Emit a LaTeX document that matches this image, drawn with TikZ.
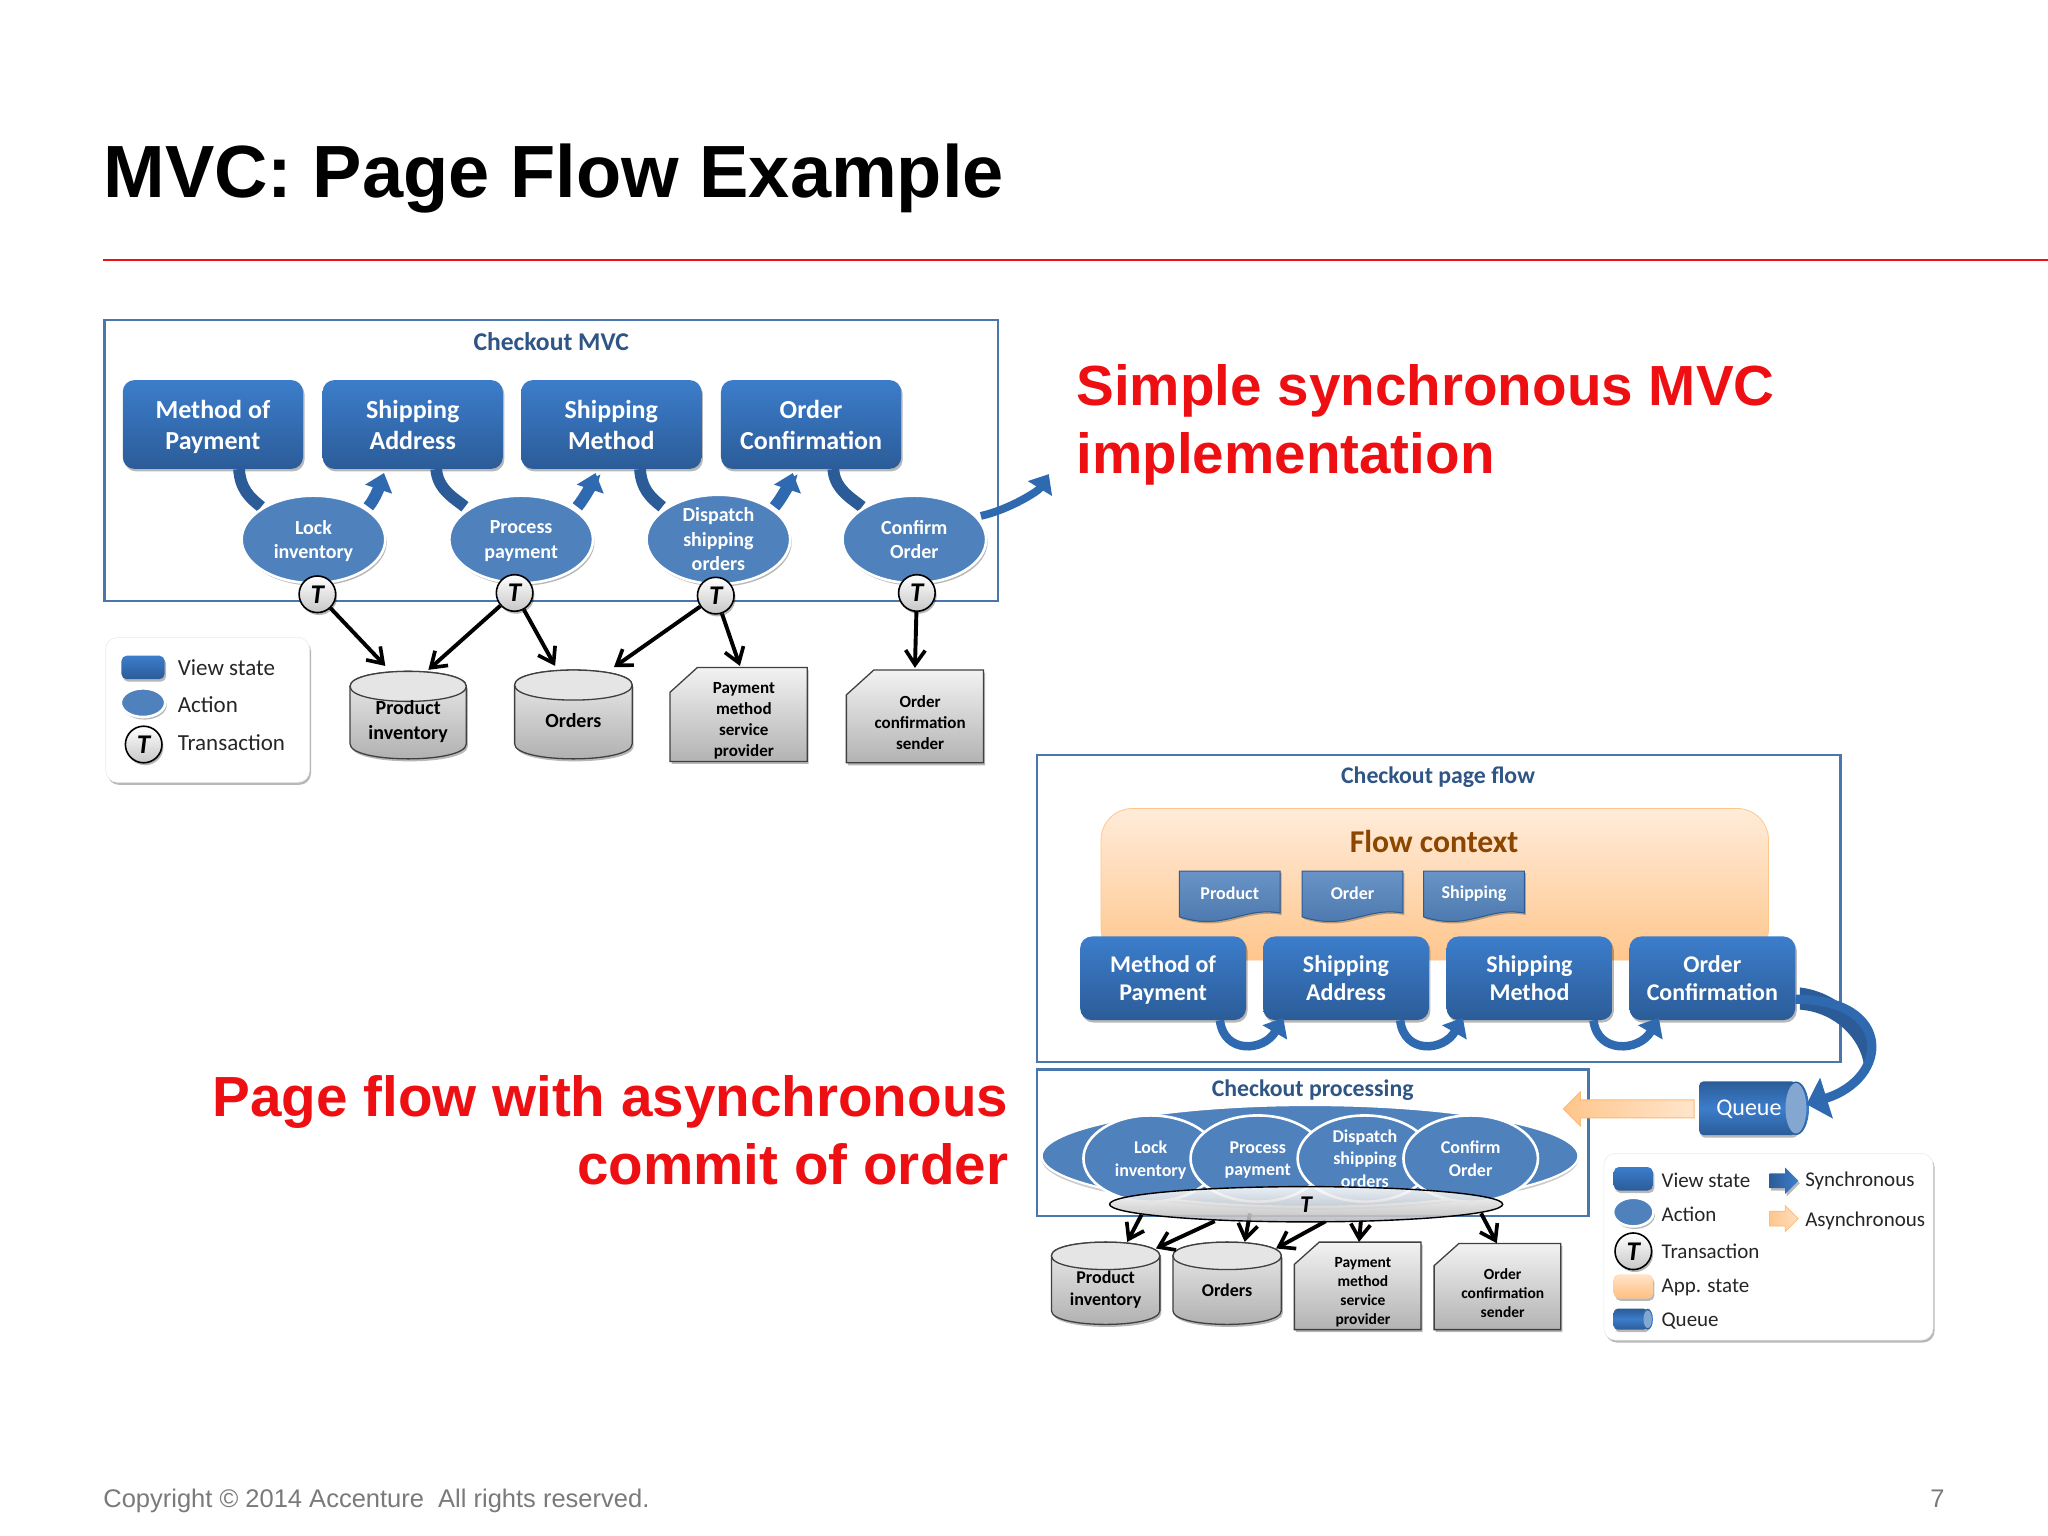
\documentclass[tikz,border=0pt]{standalone}
\usepackage{fontspec}
\setmainfont{Liberation Sans}
\newfontfamily\carl{Carlito}
\usetikzlibrary{arrows.meta,shapes.geometric,shapes.arrows,shadows,calc}
\definecolor{vtop}{HTML}{3C7DCB}
\definecolor{vbot}{HTML}{2B5C98}
\definecolor{act}{HTML}{4F81BD}
\definecolor{boxc}{HTML}{4A76AE}
\definecolor{ttl}{HTML}{2F5585}
\definecolor{redt}{HTML}{EE0F12}
\definecolor{arrowc}{HTML}{2F69B0}
\newcommand\UU[1]{#1*1.30612pt}
\newcommand\fnt[2]{\fontsize{#1}{#2}\selectfont}
\tikzset{
  softshadow/.style={drop shadow={shadow xshift=1.5pt,shadow yshift=-2.5pt,fill=black,opacity=.28}},
  box/.style={draw=boxc,line width=2.6pt},
  boxtitle/.style={font=\carl\bfseries\fnt{25.6}{30},text=ttl,inner sep=0pt},
  view/.style={rounded corners=\UU{9},top color=vtop,bottom color=vbot,draw=none,text=white,align=center,
     minimum width=\UU{138},minimum height=\UU{68},font=\carl\bfseries\fnt{26}{31},inner sep=0pt,softshadow},
  viewb/.style={view,minimum width=\UU{127},minimum height=\UU{64},font=\carl\bfseries\fnt{24}{28.5}},
  action/.style={ellipse,fill=act,draw=white,line width=2.6pt,text=white,align=center,
     minimum width=\UU{110},minimum height=\UU{67},inner sep=0pt,font=\carl\bfseries\fnt{20}{24.5},softshadow},
  actionb/.style={ellipse,fill=act,draw=white,line width=2.6pt,text=white,align=center,
     minimum width=\UU{103},minimum height=\UU{66},inner sep=0pt,font=\carl\bfseries\fnt{18}{22.5}},
  tx/.style={circle,draw=black,line width=1.6pt,top color=white,bottom color=black!22,minimum size=\UU{28},inner sep=0pt,
     font=\carl\bfseries\itshape\fnt{27}{27},softshadow},
  syncarc/.style={draw=vbot,line width=\UU{9},line cap=butt},
  synchead/.style={draw=arrowc,line width=\UU{9},line cap=butt,-{Triangle[length=\UU{13},width=\UU{21}]}},
  dep/.style={draw=black,line width=\UU{3},-{Straight Barb[length=\UU{11},width=\UU{15},line width=\UU{2.8}]}},
  legendbox/.style={rounded corners=\UU{9},fill=white,draw=black!8,line width=.6pt,softshadow},
  lbl/.style={anchor=west,inner sep=0pt,font=\carl\fnt{23}{27},text=black!85},
  lblb/.style={anchor=west,inner sep=0pt,font=\carl\fnt{21}{25},text=black!85},
  orangefill/.style={top color=orange!15,bottom color=orange!45!white},
  asyncarrow/.style={single arrow,single arrow head extend=\UU{6},single arrow head indent=0pt,draw=orange!55!white,line width=1pt,
     left color=orange!45!white,right color=orange!20!white,inner sep=\UU{6.5}},
  redhead/.style={inner sep=0pt,font=\bfseries\fnt{56.6}{68},text=redt},
}
\newcommand\wdoc[4]{%
  \begin{scope}[shift={(#2,#3)}]
    \fill[top color=act!85!white,bottom color=act!90!black,drop shadow={shadow xshift=1.5pt,shadow yshift=-2pt,fill=black,opacity=.25},draw=vbot,line width=1pt]
      (0,0) -- (77,0) -- (77,32) .. controls (48,27) and (35,46) .. (0,35) -- cycle;
    \node[inner sep=0pt,text=white,font=\carl\bfseries\fnt{18}{20}] (#1) at (38.5,17) {#4};
  \end{scope}}
% name, left, top, width, height, chamfer x, chamfer y, font, text
\newcommand\svc[9]{%
  \begin{scope}[shift={(#2,#3)}]
    \path[draw=black!75,line width=1.3pt,top color=black!5,bottom color=black!30,softshadow]
      (#6,0) -- (#4,0) -- (#4,#5) -- (0,#5) -- (0,#7) -- cycle;
    \node[inner sep=0pt,minimum width=\UU{#4},minimum height=\UU{#5},align=center,font=\carl\bfseries#8] (#1) at ($(#4/2,#5/2)+(4,5)$) {#9};
  \end{scope}}
% name, left, top, width, height, end radius, font, text
\newcommand\dbs[8]{%
  \begin{scope}[shift={(#2,#3)}]
    \path[draw=black!75,line width=1.3pt,top color=black!6,bottom color=black!32,softshadow]
      (0,#6) -- (0,#5-#6) .. controls (0,#5+#6/3) and (#4,#5+#6/3) .. (#4,#5-#6) -- (#4,#6)
      .. controls (#4,-#6/3) and (0,-#6/3) .. (0,#6) -- cycle;
    \draw[black!75,line width=1.3pt,fill=black!10] (0,#6) .. controls (0,7*#6/3) and (#4,7*#6/3) .. (#4,#6)
      .. controls (#4,-#6/3) and (0,-#6/3) .. (0,#6) -- cycle;
    \node[inner sep=0pt,minimum width=\UU{#4},minimum height=\UU{#5},align=center,font=\carl\bfseries#7] (#1) at ($(#4/2,#5/2)+(0,5)$) {#8};
  \end{scope}}
% name, left, top, width, height, end x-radius
\newcommand\queueshape[6]{%
  \begin{scope}[shift={(#2,#3)}]
    \path[top color=vbot,bottom color=vbot,middle color=vtop,rounded corners=\UU{3},softshadow]
      (0,0) -- (#4-#6,0) -- (#4-#6,#5) -- (0,#5) -- cycle;
    \path[top color=vbot,bottom color=vbot,middle color=vtop] (#4-#6,#5/2) ellipse [x radius=#6,y radius=#5/2];
    \path[fill=act!70!white] (#4-#6,#5/2) ellipse [x radius=#6*0.8,y radius=#5/2-1.2];
    \node[inner sep=0pt,minimum width=\UU{#4},minimum height=\UU{#5}] (#1) at (#4/2,#5/2) {};
  \end{scope}}
\begin{document}
\begin{tikzpicture}[x=1.30612pt,y=-1.30612pt]
\useasboundingbox[fill=white] (0,0) rectangle (1568,1176);
% header
\node[anchor=base west,inner sep=0pt,font=\bfseries\fnt{74}{90}] (title) at (79,151) {MVC: Page Flow Example};
\coordinate (rl) at (79,199); \coordinate (rr) at (1568,199);
\draw[redt,line width=2.8pt] (rl) -- (rr);
% footer
\node[anchor=base west,inner sep=0pt,font=\fnt{25.5}{30},text=black!52] (copy) at (79,1154) {Copyright © 2014 Accenture\ \ All rights reserved.};
\node[anchor=base east,inner sep=0pt,font=\fnt{25.5}{30},text=black!52] (pageno) at (1489,1154) {7};
% red headings
\node[anchor=base west,align=left,redhead] (r1) at (824,310.5) {Simple synchronous MVC};
\node[anchor=base west,align=left,redhead] (r2) at (824,362.5) {implementation};
\node[anchor=base east,align=right,redhead] (r3) at (772,855) {Page flow with asynchronous};
\node[anchor=base east,align=right,redhead] (r4) at (772,907) {commit of order};

% ===== Checkout MVC =====
\draw[box] (80,245) rectangle (764,460);
\node[boxtitle] (mvct) at (422,261.5) {Checkout MVC};
\node[view] (v1) at (163,325) {Method of\\\smash{Payment}};
\node[view] (v2) at (316,325) {Shipping\\Address};
\node[view] (v3) at (468,325) {Shipping\\Method};
\node[view] (v4) at (621,325) {Order\\Confirmation};
% data stores
\dbs{c1}{268}{514}{89}{67}{11.5}{\fnt{20}{25}}{Product\\inventory}
\dbs{c2}{394}{513}{90}{68}{11.5}{\fnt{20}{25}}{Orders}
\svc{s1}{513}{511}{105}{72}{21}{19}{\fnt{17}{21}}{Payment\\method\\service\\provider}
\svc{s2}{648}{513}{105}{71}{21}{19}{\fnt{17}{21}}{Order\\confirmation\\sender}
% sync arcs
\draw[syncarc] ([xshift=\UU{20}]v1.south) .. controls +(1,15) and +(-9,-7) .. (200,388) coordinate (a1in);
\draw[syncarc] ([xshift=\UU{18}]v2.south) .. controls +(1,15) and +(-9,-7) .. (356,388) coordinate (a2in);
\draw[syncarc] ([xshift=\UU{22}]v3.south) .. controls +(1,15) and +(-9,-7) .. (507,388) coordinate (a3in);
\draw[syncarc] ([xshift=\UU{17}]v4.south) .. controls +(1,15) and +(-9,-7) .. (660,388) coordinate (a4in);
\coordinate (a1out) at (282,388);
\coordinate (a2out) at (442,388);
\coordinate (a3out) at (593,388);
\draw[synchead] (a1out) .. controls +(6,-7) and +(-2,6) .. ([xshift=\UU{-22},yshift=\UU{-3}]v2.south);
\draw[synchead] (a2out) .. controls +(6,-7) and +(-2,6) .. ([xshift=\UU{-12},yshift=\UU{-3}]v3.south);
\draw[synchead] (a3out) .. controls +(6,-7) and +(-2,6) .. ([xshift=\UU{-14},yshift=\UU{-3}]v4.south);
\coordinate (a4out) at (751,395);
\coordinate (exit) at (803,363);
\draw[synchead,line width=\UU{6}] (a4out) .. controls +(22,-5) and +(-8,13) .. (exit);
% actions
\node[action] (a1) at (240,413) {Lock\\\smash{inventory}};
\node[action] (a2) at (399,413) {Process\\\smash{payment}};
\node[action] (a3) at (550,413) {Dispatch\\shipping\\orders};
\node[action] (a4) at (700,413) {Confirm\\Order};
% transactions
\node[tx] (t1) at (243,455) {T};
\node[tx] (t2) at (394,454) {T};
\node[tx] (t3) at (548,456) {T};
\node[tx] (t4) at (702,454) {T};
% dependency arrows
\draw[dep] (t1) -- ([xshift=\UU{-17.5},yshift=\UU{9}]c1.north);
\draw[dep] (t2) -- ([xshift=\UU{15.5},yshift=\UU{6}]c1.north);
\draw[dep] (t2) -- ([xshift=\UU{-14},yshift=\UU{8}]c2.north);
\draw[dep] (t3) -- ([xshift=\UU{31},yshift=\UU{7}]c2.north);
\draw[dep] (t3) -- ([xshift=\UU{-3},yshift=\UU{6}]s1.north);
\draw[dep] (t4) -- ([xshift=\UU{-4},yshift=\UU{6.5}]s2.north);
% legend 1
\node[legendbox,minimum width=\UU{156},minimum height=\UU{111}] (leg1) at (159,543.5) {};
\node[view,minimum width=\UU{33},minimum height=\UU{18},rounded corners=\UU{4}] (lv1) at (109.5,511) {};
\node[action,minimum width=\UU{34},minimum height=\UU{22}] (la1) at (109.5,538) {};
\node[tx] (lt1) at (110,570) {T};
\node[lbl] (lv1t) at (136,511) {View state};
\node[lbl] (la1t) at (136,539.5) {Action};
\node[lbl] (lt1t) at (136,568.5) {Transaction};

% ===== Checkout page flow =====
\draw[box] (794,578) rectangle (1409,813);
\node[boxtitle,font=\carl\bfseries\fnt{23.8}{28}] (pft) at (1101,595) {Checkout page flow};
\node[draw=orange!45!white,line width=.8pt,orangefill,rounded corners=\UU{24},minimum width=\UU{511},minimum height=\UU{116},inner sep=0pt] (fc) at (1098.5,677) {};
\node[inner sep=0pt,text=orange!55!black,font=\carl\bfseries\fnt{31.7}{34}] (fct) at (1098,644) {Flow context};
\wdoc{d1}{903}{667}{Product}
\wdoc{d2}{997}{667}{Order}
\wdoc{d3}{1090}{667}{Shipping}
\node[viewb] (w1) at (890.5,749) {Method of\\\smash{Payment}};
\node[viewb] (w2) at (1030.5,749) {Shipping\\Address};
\node[viewb] (w3) at (1171,749) {Shipping\\Method};
\node[viewb] (w4) at (1311,749) {Order\\Confirmation};
\draw[synchead,line width=\UU{6.5}] ([xshift=\UU{43.5}]w1.south) .. controls +(3,26) and +(-15,26) .. ([xshift=\UU{-48},yshift=\UU{2}]w2.south);
\draw[synchead,line width=\UU{6.5}] ([xshift=\UU{41.5}]w2.south) .. controls +(3,26) and +(-15,26) .. ([xshift=\UU{-51},yshift=\UU{2}]w3.south);
\draw[synchead,line width=\UU{6.5}] ([xshift=\UU{49}]w3.south) .. controls +(3,26) and +(-15,26) .. ([xshift=\UU{-41},yshift=\UU{2}]w4.south);

% ===== Checkout processing =====
\draw[box] (794,819) rectangle (1216,931);
\node[boxtitle,font=\carl\bfseries\fnt{23.8}{28}] (cpt) at (1005,835) {Checkout processing};
\node[ellipse,fill=act,draw=white,line width=2.2pt,minimum width=\UU{411},minimum height=\UU{78},inner sep=0pt,
      drop shadow={shadow xshift=0pt,shadow yshift=-3pt,fill=black,opacity=.2}] (proc) at (1003,885) {};
\node[actionb] (b1) at (881,887) {Lock\\\smash{inventory}};
\node[actionb] (b2) at (963,887) {Process\\\smash{payment}};
\node[actionb] (b3) at (1045,887) {Dispatch\\shipping\\orders};
\node[actionb] (b4) at (1126,887) {Confirm\\Order};
% data stores bottom
\dbs{e1}{805}{951}{83}{63}{10.5}{\fnt{18}{22}}{Product\\inventory}
\dbs{e2}{898}{951}{83}{63}{10.5}{\fnt{18}{22}}{Orders}
\svc{f1}{991}{951}{97}{67}{19}{17}{\fnt{15.5}{19}}{Payment\\method\\service\\provider}
\svc{f2}{1098}{952}{97}{66}{19}{17}{\fnt{15.5}{19}}{Order\\confirmation\\sender}
% shared transaction
\coordinate (o1) at (874,930); \coordinate (o2) at (930,935); \coordinate (o3) at (957,929);
\coordinate (o4) at (1015,935); \coordinate (o5) at (1042,934); \coordinate (o6) at (1134,929);
\draw[dep] (o1) -- ([xshift=\UU{16.5},yshift=\UU{5}]e1.north);
\draw[dep] (o2) -- ([xshift=\UU{38.5},yshift=\UU{0}]e1.north);
\draw[dep] (o3) -- ([xshift=\UU{13.5},yshift=\UU{5}]e2.north);
\draw[dep] (o4) -- ([xshift=\UU{37.5},yshift=\UU{0}]e2.north);
\draw[dep] (o5) -- ([xshift=\UU{-3},yshift=\UU{5}]f1.north);
\draw[dep] (o6) -- ([xshift=\UU{-4.5},yshift=\UU{5}]f2.north);
\node[ellipse,draw=black,line width=1.4pt,top color=white,bottom color=black!28,fill opacity=.88,text opacity=1,
      minimum width=\UU{301},minimum height=\UU{27},inner sep=0pt,font=\carl\bfseries\itshape\fnt{24}{24}] (tall) at (1000,922) {T};

% queue
\node[single arrow,shape border rotate=180,asyncarrow,minimum height=\UU{100},minimum width=\UU{25}] (qa) at (1250.5,849) {};
\queueshape{queue}{1301}{828}{84}{41}{10}
\node[inner sep=0pt,text=white,font=\carl\fnt{24}{28}] (queuet) at (1339,849) {Queue};
\fill[vbot] (1378,756) .. controls (1410,760) and (1432,785) .. (1434,815) -- (1427,815) .. controls (1424,795) and (1405,775) .. (1378,773) -- cycle;
\draw[draw=arrowc,line width=\UU{7},-{Triangle[length=\UU{16},width=\UU{32}]}] (w4.east |- 0,765) coordinate (w4o) .. controls +(75,0) and +(64,-20) .. ([xshift=\UU{-2},yshift=\UU{3}]queue.east);

% legend 2
\node[legendbox,minimum width=\UU{252},minimum height=\UU{143}] (leg2) at (1354,954.5) {};
\node[view,minimum width=\UU{30},minimum height=\UU{18},rounded corners=\UU{4}] (lv2) at (1250.5,902.5) {};
\node[action,minimum width=\UU{31},minimum height=\UU{22}] (la2) at (1250.5,928) {};
\node[tx,minimum size=\UU{28}] (lt2) at (1250.5,958) {T};
\node[rounded corners=\UU{4},top color=orange!22,bottom color=orange!50!white,draw=orange!35!white,minimum width=\UU{30},minimum height=\UU{18},inner sep=0pt,softshadow] (lo2) at (1250.5,985) {};
\queueshape{lq2}{1235.5}{1002}{30}{16}{4}
\node[lblb] (lv2t) at (1272,904) {View state};
\node[lblb] (la2t) at (1272,930) {Action};
\node[lblb] (lt2t) at (1272,958) {Transaction};
\node[lblb] (lo2t) at (1272,986) {App. state};
\node[lblb] (lq2t) at (1272,1011.5) {Queue};
\node[single arrow,single arrow head extend=\UU{4},single arrow head indent=0pt,left color=vbot,right color=vtop,inner sep=\UU{5},minimum height=\UU{22},minimum width=\UU{20},softshadow] (ls2) at (1363,904) {};
\node[single arrow,single arrow head extend=\UU{4},single arrow head indent=0pt,left color=orange!45!white,right color=orange!25!white,draw=orange!55!white,line width=.7pt,inner sep=\UU{5},minimum height=\UU{22},minimum width=\UU{20}] (la3) at (1363,933) {};
\node[lblb] (ls2t) at (1382,904.5) {Synchronous};
\node[lblb] (la3t) at (1382,935) {Asynchronous};
\end{tikzpicture}
\end{document}
